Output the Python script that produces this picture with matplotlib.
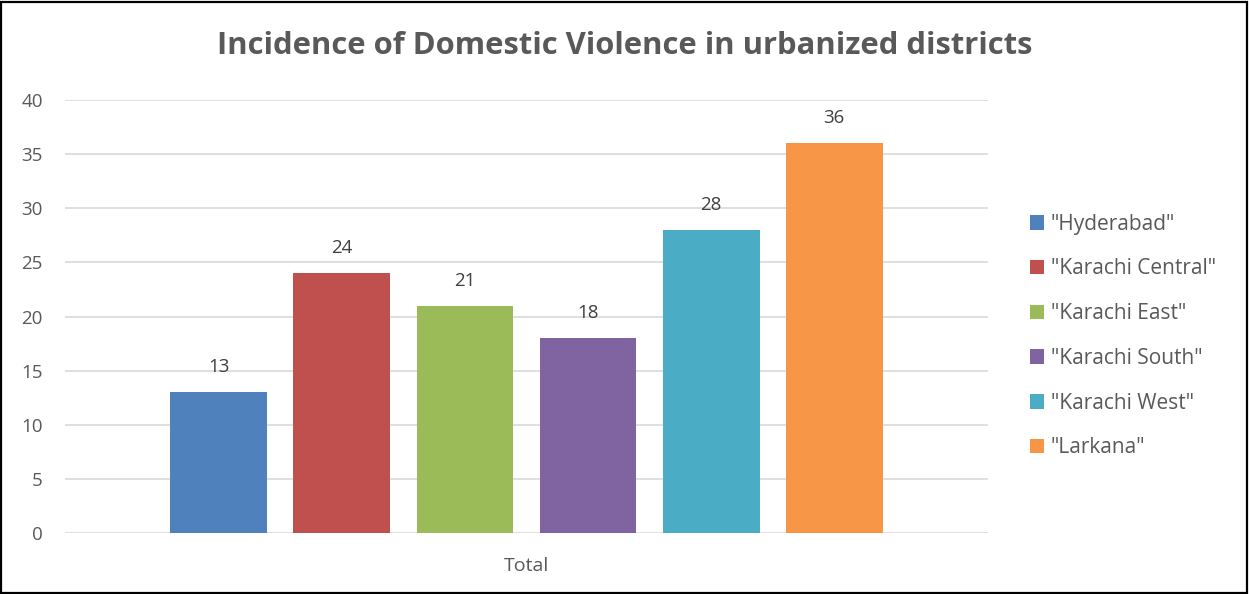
import matplotlib.pyplot as plt
from matplotlib.patches import Rectangle

# data
districts = ['"Hyderabad"', '"Karachi Central"', '"Karachi East"',
             '"Karachi South"', '"Karachi West"', '"Larkana"']
counts = [13, 24, 21, 18, 28, 36]
colors = ['#4f81bd', '#c0504d', '#9bbb59', '#8064a2', '#4bacc6', '#f79646']
category = 'Total'
yticks = [0, 5, 10, 15, 20, 25, 30, 35, 40]

plt.rcParams['font.family'] = ['Open Sans', 'DejaVu Sans']

W, H = 1249, 594
fig = plt.figure(figsize=(W / 100, H / 100), dpi=100)
ax = fig.add_axes([65 / W, (H - 533) / H, (988 - 65) / W, (533 - 100) / H])

n = len(districts)
step = 0.1333
width = 0.105
for i, (name, val, c) in enumerate(zip(districts, counts, colors)):
    x = (i - (n - 1) / 2) * step
    ax.bar(x, val, width=width, color=c, label=name, zorder=2)
    ax.text(x, val + 2.3, str(val), ha='center', va='center',
            fontsize=13.5, color='#404040')

ax.set_xlim(-0.5, 0.5)
ax.set_ylim(0, 40)
ax.set_yticks(yticks)
ax.set_xticks([0])
ax.set_xticklabels([category])
ax.tick_params(axis='both', length=0, labelsize=13.5, colors='#595959')
ax.tick_params(axis='x', labelsize=14)
ax.tick_params(axis='y', pad=16)
ax.tick_params(axis='x', pad=17)
ax.grid(axis='y', color='#d9d9d9', linewidth=1.2, zorder=0)
for s in ax.spines.values():
    s.set_visible(False)

fig.text(625 / W, 1 - 46 / H, 'Incidence of Domestic Violence in urbanized districts',
         ha='center', va='center', fontsize=22.3, fontweight='bold', color='#595959')

fig.legend(loc='center left', bbox_to_anchor=(1011 / W, 1 - 336 / H),
           frameon=False, fontsize=15, labelcolor='#595959',
           handlelength=0.7, handleheight=0.7, handletextpad=0.3,
           labelspacing=1.14)

fig.patches.append(Rectangle((0.001, 0.002), 0.997, 0.995, transform=fig.transFigure,
                             fill=False, edgecolor='black', linewidth=1.6))

fig.savefig('out.png', dpi=100)
